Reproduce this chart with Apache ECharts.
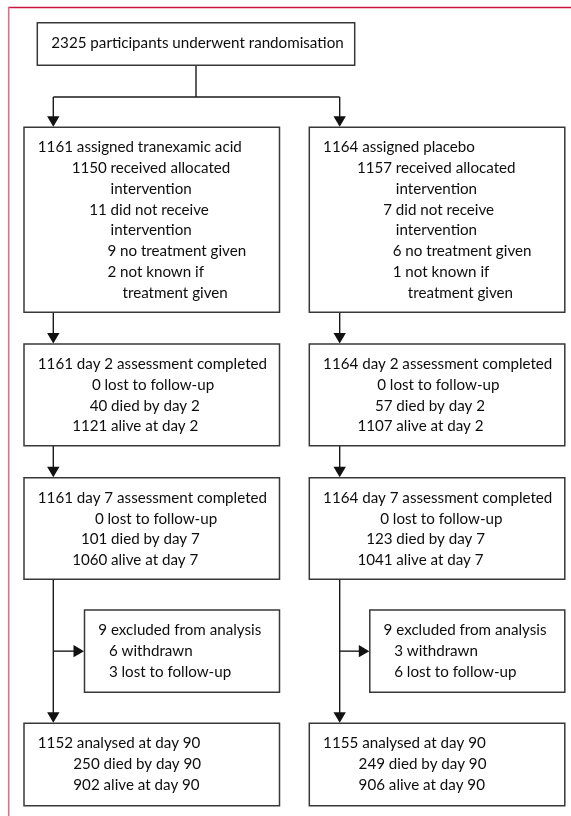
<!DOCTYPE html>
<html><head><meta charset="utf-8">
<script src="https://cdn.jsdelivr.net/npm/echarts@6/dist/echarts.min.js"></script>
<style>html,body{margin:0;padding:0;background:#fff}#c{width:571px;height:816px}</style>
</head><body><div id="c"></div>
<script>
// ---------------- data ----------------
const randomised = 2325;
const arms = ['tranexamic acid', 'placebo'];
const assigned = [1161, 1164];
const receivedAllocated = [1150, 1157];
const notReceived = [11, 7];
const noTreatmentGiven = [9, 6];
const notKnownIfGiven = [2, 1];
const day2Completed = [1161, 1164];
const day2Lost = [0, 0];
const day2Died = [40, 57];
const day2Alive = [1121, 1107];
const day7Completed = [1161, 1164];
const day7Lost = [0, 0];
const day7Died = [101, 123];
const day7Alive = [1060, 1041];
const excluded = [9, 9];
const withdrawn = [6, 3];
const lostToFollowUp = [3, 6];
const analysed90 = [1152, 1155];
const died90 = [250, 249];
const alive90 = [902, 906];

// ---------------- layout (pixel-scaled axes 0..571 x 0..816) ----------------
const W = 571, H = 816;
const FAMILY = 'Lato';
const titleText = randomised + ' participants underwent randomisation';
function fitSize(str, target) {
  const c = document.createElement('canvas').getContext('2d');
  c.font = '100px ' + FAMILY;
  return 100 * target / c.measureText(str).width;
}
const FS = fitSize(titleText, 292.6);
const FONT = FS.toFixed(2) + 'px ' + FAMILY;
const GAP = FS * 0.24;
const LINE = 20.75;
const FIRST = 20.3;
const TEXT_COLOR = '#0d0d0d';
const BORDER = '#383838';

const colX = [24, 309.3];
const colW = 255.5;
const stemX = [53.3, 339.7];
const rows = {
  arm: [127.3, 185],
  d2: [344, 101.7],
  d7: [477.7, 101.6],
  ex: [610, 82.3],
  fin: [723.3, 82.4]
};
const exOffset = 60.5, exW = 195;

function armLines(i) { return [
  {t: 'title', s: assigned[i] + ' assigned ' + arms[i]},
  {t: 'num', n: receivedAllocated[i], s: 'received allocated', col: 86.5},
  {t: 'cont', s: 'intervention', col: 86.5},
  {t: 'num', n: notReceived[i], s: 'did not receive', col: 86.5},
  {t: 'cont', s: 'intervention', col: 86.5},
  {t: 'num', n: noTreatmentGiven[i], s: 'no treatment given', col: 96},
  {t: 'num', n: notKnownIfGiven[i], s: 'not known if', col: 96},
  {t: 'cont', s: 'treatment given', col: 98.5}
]; }
function d2Lines(i) { return [
  {t: 'title', s: day2Completed[i] + ' day 2 assessment completed'},
  {t: 'num', n: day2Lost[i], s: 'lost to follow-up', col: 80.5},
  {t: 'num', n: day2Died[i], s: 'died by day 2', col: 87},
  {t: 'num', n: day2Alive[i], s: 'alive at day 2', col: 87}
]; }
function d7Lines(i) { return [
  {t: 'title', s: day7Completed[i] + ' day 7 assessment completed'},
  {t: 'num', n: day7Lost[i], s: 'lost to follow-up', col: 83.5},
  {t: 'num', n: day7Died[i], s: 'died by day 7', col: 87},
  {t: 'num', n: day7Alive[i], s: 'alive at day 7', col: 87}
]; }
function exLines(i) { return [
  {t: 'title', s: excluded[i] + ' excluded from analysis'},
  {t: 'num', n: withdrawn[i], s: 'withdrawn', col: 37},
  {t: 'num', n: lostToFollowUp[i], s: 'lost to follow-up', col: 37}
]; }
function finLines(i) { return [
  {t: 'title', s: analysed90[i] + ' analysed at day 90'},
  {t: 'left', s: died90[i] + ' died by day 90', col: 49.3},
  {t: 'left', s: alive90[i] + ' alive at day 90', col: 49.3}
]; }

const boxes = [{x: 37.3, y: 22.7, w: 317.4, h: 42.6, lines: [{t: 'center', s: titleText}]}];
[0, 1].forEach(i => {
  boxes.push({x: colX[i], y: rows.arm[0], w: colW, h: rows.arm[1], lines: armLines(i)});
  boxes.push({x: colX[i], y: rows.d2[0], w: colW, h: rows.d2[1], lines: d2Lines(i)});
  boxes.push({x: colX[i], y: rows.d7[0], w: colW, h: rows.d7[1], lines: d7Lines(i)});
  boxes.push({x: colX[i] + exOffset, y: rows.ex[0], w: exW, h: rows.ex[1], lines: exLines(i)});
  boxes.push({x: colX[i], y: rows.fin[0], w: colW, h: rows.fin[1], lines: finLines(i)});
});

// connectors
const topBox = boxes[0];
const topCx = topBox.x + topBox.w / 2, topBottom = topBox.y + topBox.h, splitY = 97;
const connectors = [
  {pts: [[topCx, topBottom], [topCx, splitY]]},
  {pts: [[stemX[0], splitY], [stemX[1], splitY]]}
];
[0, 1].forEach(i => {
  const x = stemX[i];
  connectors.push({pts: [[x, splitY], [x, rows.arm[0]]], arrow: 'down'});
  connectors.push({pts: [[x, rows.arm[0] + rows.arm[1]], [x, rows.d2[0]]], arrow: 'down'});
  connectors.push({pts: [[x, rows.d2[0] + rows.d2[1]], [x, rows.d7[0]]], arrow: 'down'});
  connectors.push({pts: [[x, rows.d7[0] + rows.d7[1]], [x, rows.fin[0]]], arrow: 'down'});
  const my = rows.ex[0] + rows.ex[1] / 2;
  connectors.push({pts: [[x, my], [colX[i] + exOffset, my]], arrow: 'right'});
});
const frame = [
  {pts: [[8, 7.4], [W, 7.4]], color: '#c8143f', w: 1.5},
  {pts: [[8.7, 7], [8.7, H]], color: '#dc6f8b', w: 1.6}
];

const chart = echarts.init(document.getElementById('c'), null, {renderer: 'canvas'});

function txt(text, x, y, align) {
  return {type: 'text', silent: true, style: {
    text: text, x: x, y: y, font: FONT, fill: TEXT_COLOR,
    align: align, verticalAlign: 'middle', textAlign: align, textVerticalAlign: 'middle'
  }};
}

chart.setOption({
  animation: false,
  backgroundColor: '#fff',
  grid: {left: 0, right: 0, top: 0, bottom: 0},
  xAxis: {type: 'value', min: 0, max: W, show: false},
  yAxis: {type: 'value', min: 0, max: H, inverse: true, show: false},
  series: [
    {
      type: 'custom', name: 'frame', silent: true, clip: false,
      data: frame.map((f, i) => [i, i]),
      renderItem: function (params, api) {
        const f = frame[params.dataIndex];
        return {type: 'polyline', shape: {points: f.pts.map(p => api.coord(p))},
          style: {stroke: f.color, lineWidth: f.w, fill: null}};
      }
    },
    {
      type: 'custom', name: 'connectors', silent: true, clip: false,
      data: connectors.map((c, i) => [i, i]),
      renderItem: function (params, api) {
        const c = connectors[params.dataIndex];
        const pts = c.pts.map(p => api.coord(p));
        const children = [];
        const L = 11, HW = 6.2;
        let linePts = pts.slice();
        if (c.arrow) {
          const tip = pts[pts.length - 1];
          let poly;
          if (c.arrow === 'down') {
            poly = [[tip[0], tip[1] - 0.5], [tip[0] - HW, tip[1] - L], [tip[0] + HW, tip[1] - L]];
            linePts[linePts.length - 1] = [tip[0], tip[1] - L + 1];
          } else {
            poly = [[tip[0] - 0.5, tip[1]], [tip[0] - L, tip[1] - HW], [tip[0] - L, tip[1] + HW]];
            linePts[linePts.length - 1] = [tip[0] - L + 1, tip[1]];
          }
          children.push({type: 'polygon', shape: {points: poly}, style: {fill: '#111'}});
        }
        children.unshift({type: 'polyline', shape: {points: linePts}, style: {stroke: '#1a1a1a', lineWidth: 1.4, fill: null}});
        return {type: 'group', children: children};
      }
    },
    {
      type: 'custom', name: 'boxes', silent: true, clip: false,
      data: boxes.map((b, i) => [i, i]),
      renderItem: function (params, api) {
        const b = boxes[params.dataIndex];
        const p0 = api.coord([b.x, b.y]);
        const p1 = api.coord([b.x + b.w, b.y + b.h]);
        const children = [{type: 'rect', shape: {x: p0[0], y: p0[1], width: p1[0] - p0[0], height: p1[1] - p0[1]},
          style: {fill: '#fff', stroke: BORDER, lineWidth: 1.5}}];
        b.lines.forEach((ln, k) => {
          const yy = api.coord([0, b.y + FIRST + k * LINE])[1];
          if (ln.t === 'center') {
            children.push(txt(ln.s, api.coord([b.x + b.w / 2 + 1.5, 0])[0], yy, 'center'));
          } else if (ln.t === 'title') {
            children.push(txt(ln.s, api.coord([b.x + 13.8, 0])[0], yy, 'left'));
          } else if (ln.t === 'num') {
            children.push(txt(String(ln.n), api.coord([b.x + ln.col, 0])[0] - GAP, yy, 'right'));
            children.push(txt(ln.s, api.coord([b.x + ln.col, 0])[0], yy, 'left'));
          } else {
            children.push(txt(ln.s, api.coord([b.x + ln.col, 0])[0], yy, 'left'));
          }
        });
        return {type: 'group', children: children};
      }
    }
  ]
});
</script>
</body></html>
